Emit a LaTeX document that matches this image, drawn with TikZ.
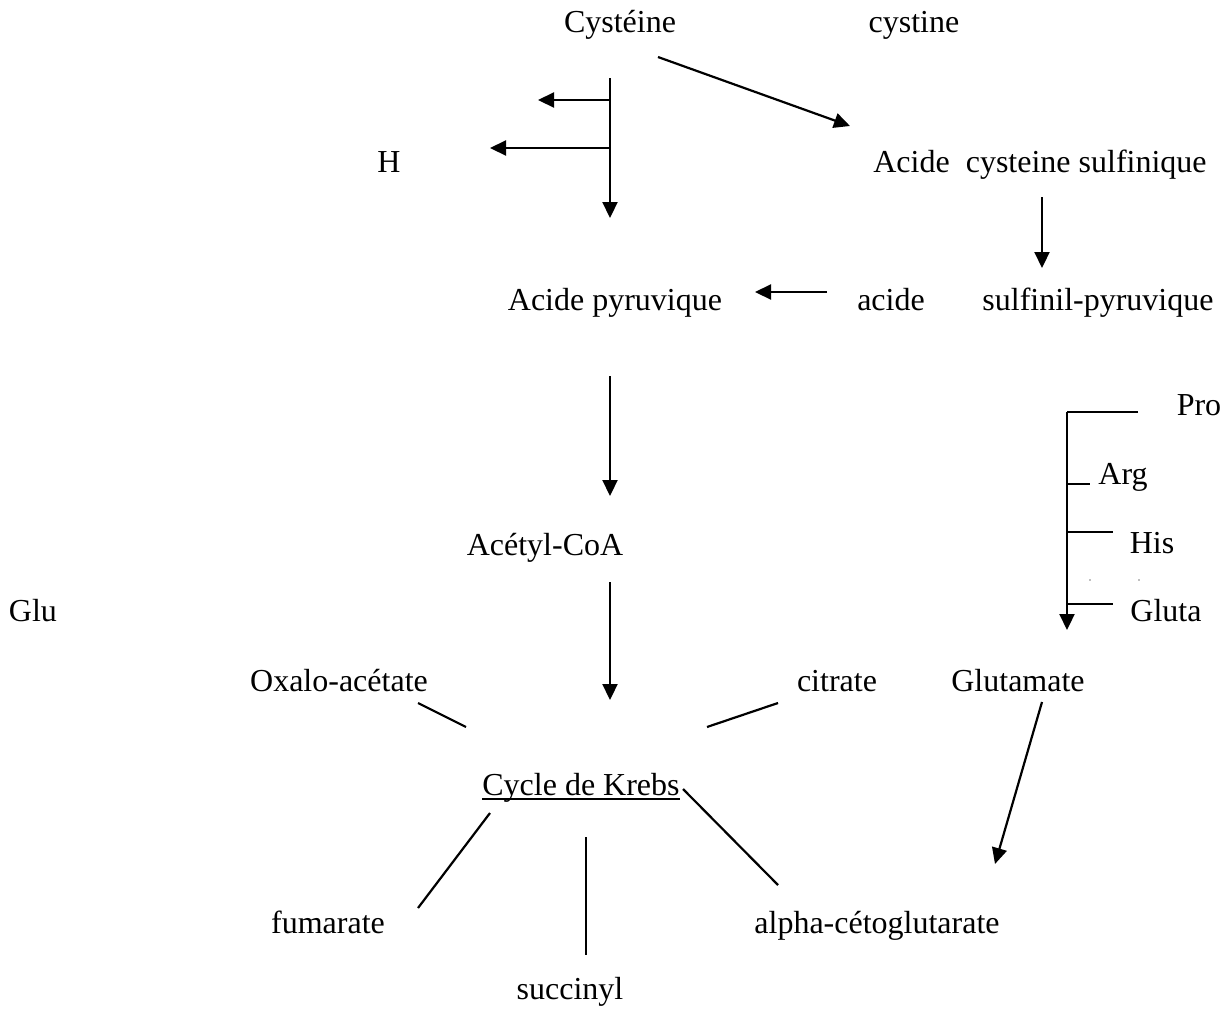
\documentclass[tikz,border=0pt]{standalone}
\usepackage{fontspec}
\setmainfont{Liberation Serif}
\usepackage{tikz}
\usetikzlibrary{arrows.meta}

\tikzset{
  txt/.style={anchor=base, inner sep=0pt, font=\fontsize{32}{38}\selectfont},
  arr/.style={line width=2.2pt, -{Triangle[length=16pt,width=15pt]}},
  ln/.style={line width=2.2pt}
}

\begin{document}
\begin{tikzpicture}[x=1pt,y=-1pt]
    \useasboundingbox (0,0) rectangle (1229,1010);

    % Cysteine
    \node[txt] (cys) at (620,32) {Cystéine};
    \node[txt] (cysn) at (914,32) {cystine};
    \node[txt] (h) at (389,172) {H};
    \node[txt] (acs) at (1040,172) {Acide\ \ cysteine sulfinique};
    \coordinate (c1) at (658,57);
    \coordinate (c2) at (850,126);
    \draw[arr] (c1) -- (c2);

    % branches
    \coordinate (v1) at (610,78);
    \coordinate (v2) at (610,218);
    \coordinate (b1) at (610,100);
    \coordinate (b1e) at (538,100);
    \coordinate (b2) at (610,148);
    \coordinate (b2e) at (490,148);
    \draw[arr] (v1) -- (v2);
    \draw[arr] (b1) -- (b1e);
    \draw[arr] (b2) -- (b2e);

    % Pyruvate
    \node[txt] (pyr) at (615,310) {Acide pyruvique};
    \node[txt] (acd) at (891,310) {acide};
    \node[txt] (sfp) at (1098,310) {sulfinil-pyruvique};
    \coordinate (s1) at (1042,197);
    \coordinate (s2) at (1042,268);
    \draw[arr] (s1) -- (s2);
    \coordinate (a1) at (827,292);
    \coordinate (a2) at (755,292);
    \draw[arr] (a1) -- (a2);

    % Acetyl-CoA
    \node[txt] (aco) at (545,555) {Acétyl-CoA};
    \coordinate (p1) at (610,376);
    \coordinate (p2) at (610,496);
    \draw[arr] (p1) -- (p2);
    \coordinate (k1) at (610,582);
    \coordinate (k2) at (610,700);
    \draw[arr] (k1) -- (k2);

    % Pro, Arg, His, Gluta
    \node[txt] (pro) at (1199,415) {Pro};
    \node[txt] (arg) at (1123,484) {Arg};
    \node[txt] (his) at (1152,553) {His};
    \node[txt] (glt) at (1166,621) {Gluta};
    \node[txt] (glu) at (33,621) {Glu};
    \coordinate (g0) at (1067,412);
    \coordinate (g1) at (1138,412);
    \coordinate (g2) at (1067,630);
    \draw[ln] (g1) -- (g0);
    \draw[arr] (g0) -- (g2);
    \draw[ln] (1067,484) -- (1090,484);
    \draw[ln] (1067,532) -- (1113,532);
    \draw[ln] (1067,604) -- (1113,604);
    \fill[gray] (1090,580) circle (0.8pt) (1139,580) circle (0.8pt);

    % Krebs
    \node[txt] (oxa) at (339,691) {Oxalo-acétate};
    \node[txt] (cit) at (837,691) {citrate};
    \node[txt] (gla) at (1018,691) {Glutamate};
    \node[txt] (krb) at (581,795) {Cycle de Krebs};
    \draw[line width=1.5pt] ([yshift=-4pt]krb.base west) -- ([yshift=-4pt]krb.base east);
    \node[txt] (fum) at (328,933) {fumarate};
    \node[txt] (akg) at (877,933) {alpha-cétoglutarate};
    \node[txt] (suc) at (570,999) {succinyl};

    \draw[ln] (418,703) -- (466,727);
    \draw[ln] (707,727) -- (778,703);
    \draw[ln] (683,789) -- (778,885);
    \draw[ln] (490,813) -- (418,908);
    \draw[ln] (586,837) -- (586,955);
    \coordinate (e1) at (1042,702);
    \coordinate (e2) at (995,864);
    \draw[arr] (e1) -- (e2);
\end{tikzpicture}
\end{document}
